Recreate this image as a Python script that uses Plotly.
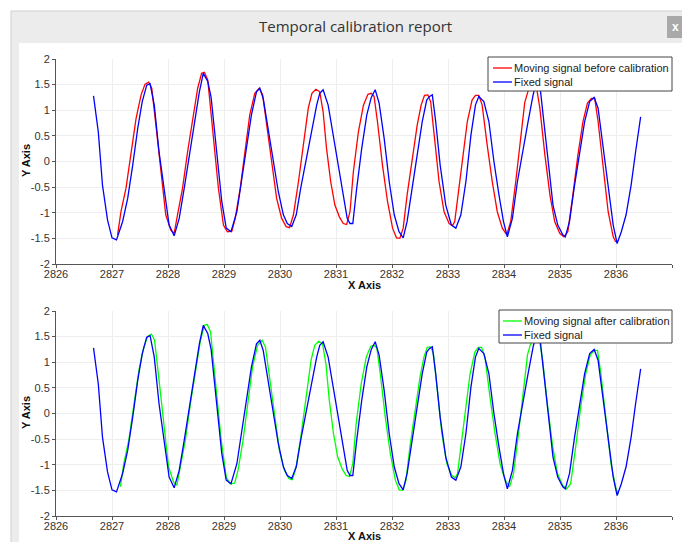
import plotly.graph_objects as go

# ---------------- data ----------------
fixed_t = [2826.67, 2826.755, 2826.83, 2826.92, 2827.00, 2827.08, 2827.19, 2827.28, 2827.37, 2827.46,
           2827.54, 2827.62, 2827.68, 2827.755, 2827.84, 2827.93, 2828.02, 2828.11, 2828.20, 2828.29,
           2828.38, 2828.47, 2828.56, 2828.63, 2828.71, 2828.77, 2828.87, 2828.96, 2829.04, 2829.125,
           2829.23, 2829.31, 2829.40, 2829.49, 2829.58, 2829.64, 2829.70, 2829.79, 2829.88, 2829.97,
           2830.06, 2830.13, 2830.21, 2830.29, 2830.37, 2830.48, 2830.57, 2830.655, 2830.71, 2830.77,
           2830.86, 2830.95, 2831.04, 2831.13, 2831.20, 2831.25, 2831.30, 2831.37, 2831.46, 2831.55,
           2831.63, 2831.70, 2831.77, 2831.86, 2831.95, 2832.04, 2832.125, 2832.20, 2832.27, 2832.36,
           2832.45, 2832.54, 2832.62, 2832.67, 2832.72, 2832.78, 2832.86, 2832.96, 2833.06, 2833.14,
           2833.23, 2833.32, 2833.41, 2833.49, 2833.55, 2833.64, 2833.73, 2833.82, 2833.91, 2833.99,
           2834.06, 2834.15, 2834.24, 2834.34, 2834.43, 2834.52, 2834.58, 2834.64, 2834.70, 2834.79,
           2834.875, 2834.96, 2835.05, 2835.095, 2835.17, 2835.26, 2835.35, 2835.44, 2835.53, 2835.61,
           2835.68, 2835.77, 2835.86, 2835.95, 2836.02, 2836.095, 2836.18, 2836.27, 2836.35, 2836.44]
fixed_y = [1.28, 0.58, -0.46, -1.14, -1.49, -1.53, -1.17, -0.72, -0.07, 0.65,
           1.17, 1.49, 1.52, 1.10, 0.19, -0.52, -1.24, -1.45, -1.11, -0.52,
           0.13, 0.78, 1.36, 1.72, 1.56, 1.25, 0.13, -0.78, -1.30, -1.37,
           -0.98, -0.39, 0.26, 0.91, 1.36, 1.43, 1.23, 0.65, 0.00, -0.59,
           -1.04, -1.21, -1.27, -1.04, -0.52, 0.13, 0.65, 1.10, 1.33, 1.40,
           1.10, 0.52, -0.13, -0.65, -1.11, -1.21, -1.21, -0.52, 0.26, 0.91,
           1.25, 1.40, 1.14, 0.45, -0.39, -1.04, -1.37, -1.49, -1.17, -0.52,
           0.13, 0.78, 1.20, 1.27, 1.30, 0.78, -0.07, -0.85, -1.24, -1.30,
           -1.04, -0.39, 0.52, 1.10, 1.27, 1.17, 0.78, 0.00, -0.65, -1.17,
           -1.47, -1.11, -0.39, 0.25, 0.78, 1.30, 1.55, 1.49, 0.91, -0.07,
           -0.85, -1.24, -1.43, -1.47, -1.17, -0.46, 0.19, 0.78, 1.17, 1.25,
           1.04, 0.26, -0.52, -1.24, -1.60, -1.37, -1.04, -0.46, 0.19, 0.87]

moving_t = [2827.10, 2827.16, 2827.25, 2827.34, 2827.43, 2827.52, 2827.59, 2827.655, 2827.71, 2827.79,
            2827.875, 2827.96, 2828.05, 2828.11, 2828.17, 2828.26, 2828.35, 2828.44, 2828.53, 2828.60,
            2828.65, 2828.71, 2828.79, 2828.90, 2828.99, 2829.06, 2829.14, 2829.20, 2829.29, 2829.375,
            2829.46, 2829.55, 2829.63, 2829.69, 2829.76, 2829.85, 2829.94, 2830.03, 2830.11, 2830.17,
            2830.24, 2830.33, 2830.42, 2830.505, 2830.57, 2830.64, 2830.71, 2830.77, 2830.83, 2830.905,
            2830.98, 2831.06, 2831.13, 2831.19, 2831.25, 2831.31, 2831.40, 2831.49, 2831.57, 2831.63,
            2831.68, 2831.74, 2831.83, 2831.92, 2832.01, 2832.08, 2832.14, 2832.20, 2832.27, 2832.36,
            2832.45, 2832.52, 2832.58, 2832.64, 2832.69, 2832.76, 2832.84, 2832.93, 2833.02, 2833.08,
            2833.12, 2833.18, 2833.26, 2833.345, 2833.43, 2833.49, 2833.55, 2833.61, 2833.70, 2833.79,
            2833.88, 2833.97, 2834.05, 2834.12, 2834.21, 2834.30, 2834.37, 2834.45, 2834.52, 2834.58,
            2834.64, 2834.73, 2834.82, 2834.905, 2834.995, 2835.07, 2835.14, 2835.23, 2835.32, 2835.41,
            2835.49, 2835.56, 2835.62, 2835.68, 2835.77, 2835.86, 2835.95, 2835.995]
moving_y = [-1.43, -0.98, -0.52, 0.13, 0.84, 1.30, 1.51, 1.55, 1.43, 0.65,
            -0.26, -1.04, -1.34, -1.40, -1.04, -0.52, 0.19, 0.84, 1.43, 1.72,
            1.74, 1.59, 0.75, -0.52, -1.24, -1.37, -1.36, -1.11, -0.52, 0.19,
            0.91, 1.33, 1.43, 1.30, 0.71, -0.07, -0.72, -1.11, -1.27, -1.29,
            -1.04, -0.39, 0.32, 1.04, 1.33, 1.41, 1.36, 0.97, 0.26, -0.39,
            -0.85, -1.08, -1.21, -1.23, -0.98, -0.20, 0.58, 1.10, 1.31, 1.33,
            1.27, 0.78, -0.07, -0.78, -1.30, -1.49, -1.50, -1.30, -0.65, 0.06,
            0.71, 1.10, 1.29, 1.30, 1.17, 0.45, -0.39, -0.98, -1.21, -1.25,
            -1.17, -0.65, 0.00, 0.78, 1.20, 1.29, 1.29, 1.10, 0.32, -0.39,
            -0.98, -1.30, -1.43, -1.17, -0.39, 0.45, 1.15, 1.45, 1.55, 1.45,
            1.04, 0.13, -0.65, -1.17, -1.40, -1.47, -1.37, -0.65, 0.13, 0.78,
            1.14, 1.23, 1.23, 0.78, -0.13, -0.98, -1.47, -1.57]

calibration_offset = 0.05  # seconds, applied to the moving signal
calibrated_t = [t + calibration_offset for t in moving_t]

x_ticks = [2826, 2827, 2828, 2829, 2830, 2831, 2832, 2833, 2834, 2835, 2836, 2837]
x_ticktext = [str(v) for v in x_ticks]
y_ticks = [-2, -1.5, -1, -0.5, 0, 0.5, 1, 1.5, 2]
y_ticktext = ["-2", "-1.5", "-1", "-0.5", "0", "0.5", "1", "1.5", "2"]

top_legend = ["Moving signal before calibration", "Fixed signal"]
bottom_legend = ["Moving signal after calibration", "Fixed signal"]

RED, BLUE, GREEN = "#ff0000", "#0000ff", "#00ff00"

# ---------------- figure ----------------
W, H = 682, 542
def px(x):
    return x / W
def py(y):
    return 1 - y / H

fig = go.Figure()

line_w = 1.3
fig.add_trace(go.Scatter(x=moving_t, y=moving_y, mode="lines", name=top_legend[0],
                         line=dict(color=RED, width=line_w), xaxis="x", yaxis="y"))
fig.add_trace(go.Scatter(x=fixed_t, y=fixed_y, mode="lines", name=top_legend[1],
                         line=dict(color=BLUE, width=line_w), xaxis="x", yaxis="y"))
fig.add_trace(go.Scatter(x=calibrated_t, y=moving_y, mode="lines", name=bottom_legend[0],
                         line=dict(color=GREEN, width=line_w), xaxis="x2", yaxis="y2"))
fig.add_trace(go.Scatter(x=fixed_t, y=fixed_y, mode="lines", name=bottom_legend[1],
                         line=dict(color=BLUE, width=line_w), xaxis="x2", yaxis="y2"))

tick_font = dict(family="Liberation Sans, Arial, sans-serif", size=11, color="#333333")
xax = dict(range=[2826, 2837], tickvals=x_ticks, ticktext=x_ticktext, showline=True, linecolor="#555555",
           linewidth=1, ticks="outside", ticklen=3, tickcolor="#555555", showgrid=True, gridcolor="#eeeeee",
           zeroline=False, tickfont=tick_font, fixedrange=True, ticklabelstandoff=-3)
yax = dict(range=[-2, 2], tickvals=y_ticks, ticktext=y_ticktext, showline=True, linecolor="#555555",
           linewidth=1, ticks="outside", ticklen=3, tickcolor="#555555", showgrid=True, gridcolor="#eeeeee",
           zeroline=False, tickfont=tick_font, fixedrange=True, ticklabelstandoff=0)

fig.update_layout(
    width=W, height=H,
    margin=dict(l=0, r=0, t=0, b=0, autoexpand=False),
    paper_bgcolor="#ffffff", plot_bgcolor="#ffffff",
    xaxis=dict(xax, domain=[px(56), px(672)], anchor="y"),
    yaxis=dict(yax, domain=[py(264), py(59)], anchor="x"),
    xaxis2=dict(xax, domain=[px(56), px(672)], anchor="y2"),
    yaxis2=dict(yax, domain=[py(516), py(311)], anchor="x2"),
    showlegend=False,
)

# window chrome
shapes = [
    dict(type="rect", xref="paper", yref="paper", x0=px(11), x1=px(700), y0=py(560), y1=py(11),
         fillcolor="#ececec", line=dict(color="#d0d0d0", width=1), layer="below"),
    dict(type="rect", xref="paper", yref="paper", x0=px(19), x1=px(700), y0=py(560), y1=py(43),
         fillcolor="#ffffff", line=dict(width=0), layer="below"),
    dict(type="rect", xref="paper", yref="paper", x0=px(667), x1=px(700), y0=py(38), y1=py(16),
         fillcolor="#a9a9a9", line=dict(width=0), layer="below"),
]

leg_font = dict(family="Liberation Sans, Arial, sans-serif", size=11, color="#222222")
annotations = []

def add_legend(box, rows, sample_x, text_x):
    x0, y0, x1, y1 = box
    shapes.append(dict(type="rect", xref="paper", yref="paper", x0=px(x0), x1=px(x1), y0=py(y1), y1=py(y0),
                       fillcolor="#ffffff", line=dict(color="#444444", width=1), layer="above"))
    for (label, color, yy) in rows:
        shapes.append(dict(type="line", xref="paper", yref="paper", x0=px(sample_x[0]), x1=px(sample_x[1]),
                           y0=py(yy), y1=py(yy), line=dict(color=color, width=1.3), layer="above"))
        annotations.append(dict(text=label, x=px(text_x), y=py(yy), xref="paper", yref="paper",
                                showarrow=False, xanchor="left", yanchor="middle", font=leg_font))

add_legend((488, 57, 672, 91), [(top_legend[0], RED, 68), (top_legend[1], BLUE, 82)], (493, 512), 512)
add_legend((499, 310, 672, 343), [(bottom_legend[0], GREEN, 321), (bottom_legend[1], BLUE, 335)], (503, 522), 522)

fig.update_layout(shapes=shapes)

ann_font = dict(family="Liberation Sans, Arial, sans-serif", size=11, color="#111111")
annotations += [
    dict(text="Temporal calibration report", x=px(355), y=py(26), xref="paper", yref="paper",
         showarrow=False, xanchor="center", yanchor="middle",
         font=dict(family="Open Sans, sans-serif", size=15, color="#333333")),
    dict(text="<b>x</b>", x=px(675), y=py(27), xref="paper", yref="paper", showarrow=False,
         xanchor="center", yanchor="middle", font=dict(family="Liberation Sans", size=12, color="#ffffff")),
    dict(text="<b>X Axis</b>", x=px(364), y=py(285), xref="paper", yref="paper", showarrow=False,
         xanchor="center", yanchor="middle", font=ann_font),
    dict(text="<b>X Axis</b>", x=px(364), y=py(536), xref="paper", yref="paper", showarrow=False,
         xanchor="center", yanchor="middle", font=ann_font),
    dict(text="<b>Y Axis</b>", x=px(26), y=py(161), xref="paper", yref="paper", showarrow=False,
         textangle=-90, xanchor="center", yanchor="middle", font=ann_font),
    dict(text="<b>Y Axis</b>", x=px(26), y=py(413), xref="paper", yref="paper", showarrow=False,
         textangle=-90, xanchor="center", yanchor="middle", font=ann_font),
]
fig.update_layout(annotations=annotations)

fig.write_html("out.html", config=dict(displayModeBar=False))
